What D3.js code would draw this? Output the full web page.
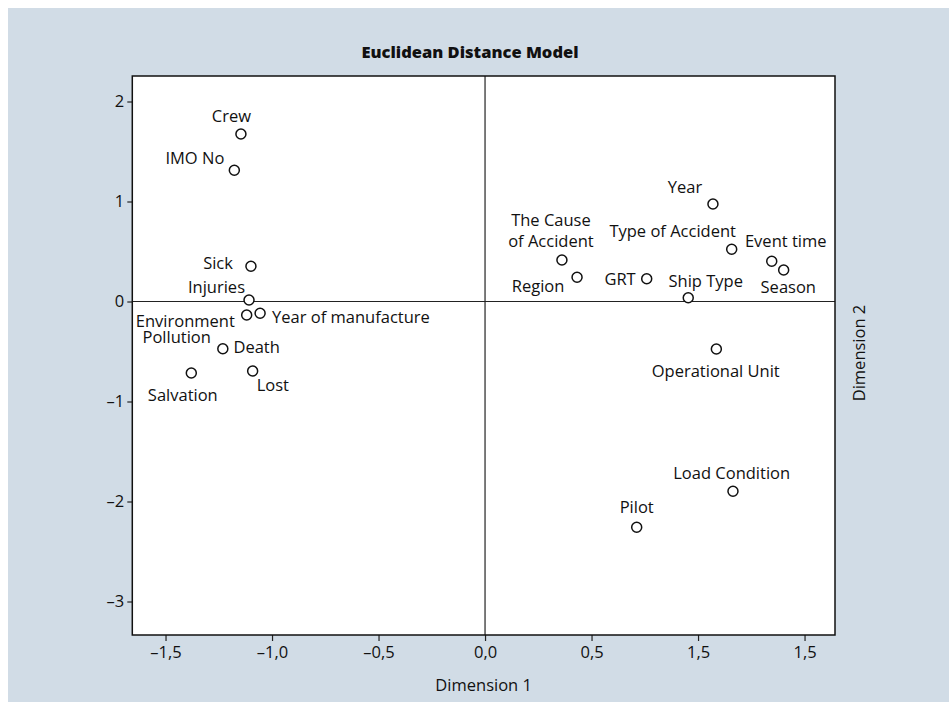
<!DOCTYPE html>
<html>
<head>
<meta charset="utf-8">
<script src="https://cdn.jsdelivr.net/npm/d3@7"></script>
<style>
  body { margin: 0; background: #fff; }
  svg text { font-family: "Open Sans", "Liberation Sans", sans-serif; fill: #111; }
</style>
</head>
<body>
<div id="chart"></div>
<script>
// coordinates
var names = ["Crew", "IMO No", "Sick", "Injuries", "Environment\nPollution", "Year of manufacture",
  "Death", "Salvation", "Lost", "Year", "Type of Accident", "Event time", "Season",
  "The Cause\nof Accident", "Region", "GRT", "Ship Type", "Operational Unit", "Load Condition", "Pilot"];
var dim1 = [-1.146, -1.177, -1.099, -1.108, -1.119, -1.056, -1.231, -1.379, -1.091, 1.070,
  1.158, 1.346, 1.402, 0.361, 0.432, 0.759, 0.954, 1.086, 1.164, 0.712];
var dim2 = [1.675, 1.312, 0.352, 0.015, -0.135, -0.118, -0.472, -0.715, -0.695, 0.975,
  0.522, 0.402, 0.315, 0.415, 0.242, 0.228, 0.038, -0.475, -1.898, -2.258];
var xTicks = [-1.5, -1.0, -0.5, 0.0, 0.5, 1.0, 1.5];
var xTickLabels = ["\u20131,5", "\u20131,0", "\u20130,5", "0,0", "0,5", "1,5", "1,5"];
var yTicks = [2, 1, 0, -1, -2, -3];
var yTickLabels = ["2", "1", "0", "\u20131", "\u20132", "\u20133"];

// label placement: anchor + offsets (px) from each point, one pair per line
var labelPos = {
  "Crew": ["middle", [[-9.5, -12.3]]],
  "IMO No": ["end", [[-10, -6]]],
  "Sick": ["end", [[-18, 3]]],
  "Injuries": ["end", [[-4, -7]]],
  "Environment\nPollution": ["middle", [[-61.4, 11.7], [-70, 28]]],
  "Year of manufacture": ["start", [[12, 9.4]]],
  "Death": ["start", [[10.6, 4.6]]],
  "Salvation": ["middle", [[-8.5, 27.7]]],
  "Lost": ["start", [[4, 20]]],
  "Year": ["middle", [[-28, -11.3]]],
  "Type of Accident": ["middle", [[-59, -12.6]]],
  "Event time": ["middle", [[14, -14.6]]],
  "Season": ["middle", [[4.6, 23.3]]],
  "The Cause\nof Accident": ["middle", [[-11, -34.3], [-11, -13.3]]],
  "Region": ["end", [[-12.7, 15]]],
  "GRT": ["end", [[-11, 6.3]]],
  "Ship Type": ["middle", [[17.5, -11]]],
  "Operational Unit": ["middle", [[-0.6, 28.3]]],
  "Load Condition": ["middle", [[-1.3, -12.3]]],
  "Pilot": ["middle", [[0, -14]]]
};

var W = 949, H = 702;
var pLeft = 132.3, pRight = 835, pTop = 76, pBottom = 635;

var svg = d3.select("#chart").append("svg")
  .attr("width", W).attr("height", H);

svg.append("rect").attr("x", 8).attr("y", 8)
  .attr("width", W - 8).attr("height", H - 8)
  .attr("fill", "#d1dce6");

var x = d3.scaleLinear().domain([-1.656, 1.643]).range([pLeft, pRight]);
var y = d3.scaleLinear().domain([-3.335, 2.255]).range([pBottom, pTop]);

svg.append("rect")
  .attr("x", pLeft).attr("y", pTop)
  .attr("width", pRight - pLeft).attr("height", pBottom - pTop)
  .attr("fill", "#fff");

// zero lines
svg.append("line")
  .attr("x1", x(0)).attr("x2", x(0)).attr("y1", pTop).attr("y2", pBottom)
  .attr("stroke", "#222").attr("stroke-width", 1.2);
svg.append("line")
  .attr("x1", pLeft).attr("x2", pRight).attr("y1", y(0)).attr("y2", y(0))
  .attr("stroke", "#222").attr("stroke-width", 1.2);

var xAxis = svg.append("g")
  .attr("transform", "translate(0," + pBottom + ")")
  .call(d3.axisBottom(x).tickValues(xTicks).tickSize(6).tickPadding(5)
    .tickFormat(function(d, i) { return xTickLabels[i]; }));
var yAxis = svg.append("g")
  .attr("transform", "translate(" + pLeft + ",0)")
  .call(d3.axisLeft(y).tickValues(yTicks).tickSize(5).tickPadding(3)
    .tickFormat(function(d, i) { return yTickLabels[i]; }));

[xAxis, yAxis].forEach(function(g) {
  g.select(".domain").remove();
  g.selectAll(".tick line").attr("stroke", "#222").attr("stroke-width", 1.2);
  g.selectAll(".tick text").attr("font-family", "'Open Sans', sans-serif")
    .attr("font-size", 16.5).attr("fill", "#111");
});

// frame
svg.append("rect")
  .attr("x", pLeft).attr("y", pTop)
  .attr("width", pRight - pLeft).attr("height", pBottom - pTop)
  .attr("fill", "none").attr("stroke", "#111").attr("stroke-width", 1.5);

var pts = names.map(function(n, i) { return { name: n, d1: dim1[i], d2: dim2[i] }; });

var g = svg.append("g");
pts.forEach(function(p) {
  var cx = x(p.d1), cy = y(p.d2);
  var lp = labelPos[p.name];
  var lines = p.name.split("\n");
  lines.forEach(function(line, k) {
    g.append("text")
      .attr("x", cx + lp[1][k][0]).attr("y", cy + lp[1][k][1])
      .attr("text-anchor", lp[0])
      .attr("font-size", 16.5)
      .text(line);
  });
  g.append("circle")
    .attr("cx", cx).attr("cy", cy).attr("r", 5)
    .attr("fill", "#fff").attr("stroke", "#111").attr("stroke-width", 1.5);
});

svg.append("text")
  .attr("x", 470).attr("y", 58.3)
  .attr("text-anchor", "middle")
  .attr("font-size", 16.5).attr("font-weight", 800)
  .attr("fill", "#000")
  .text("Euclidean Distance Model");

svg.append("text")
  .attr("x", (pLeft + pRight) / 2).attr("y", 690.5)
  .attr("text-anchor", "middle")
  .attr("font-size", 16.5)
  .text("Dimension 1");

svg.append("text")
  .attr("transform", "translate(865," + 353 + ") rotate(-90)")
  .attr("text-anchor", "middle")
  .attr("font-size", 16.5)
  .text("Dimension 2");
</script>
</body>
</html>
